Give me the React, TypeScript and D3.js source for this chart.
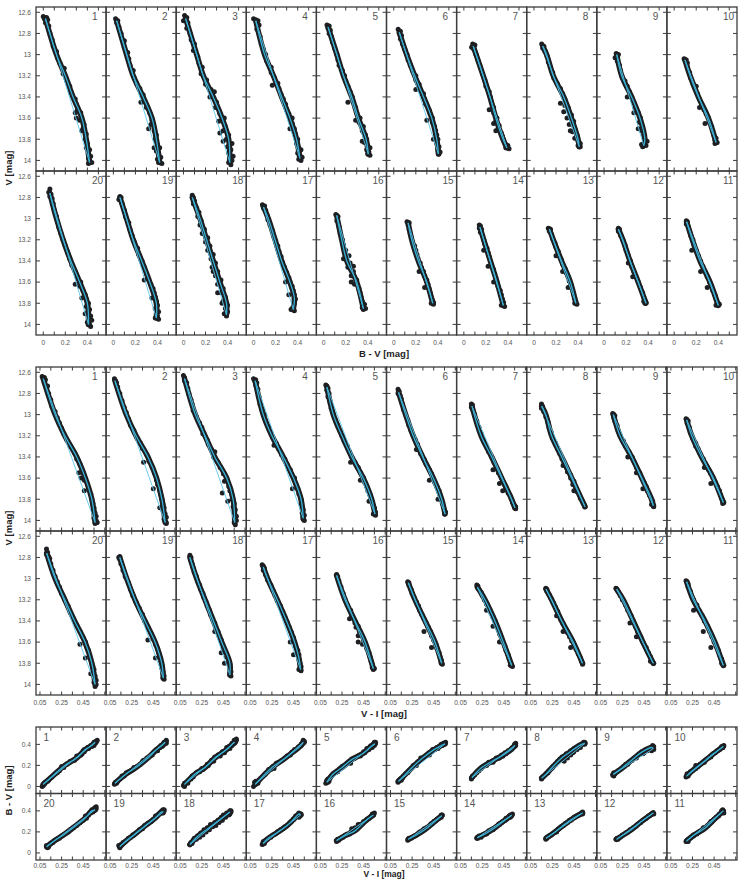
import React from 'react';
import * as d3 from 'd3';

type P = [number, number, number]; // [V, B-V, V-I]

const row1Panels = [1, 2, 3, 4, 5, 6, 7, 8, 9, 10];
const row2Panels = [20, 19, 18, 17, 16, 15, 14, 13, 12, 11];

const vTicks = [12.6, 12.8, 13, 13.2, 13.4, 13.6, 13.8, 14];
const bvXTicks = [0, 0.1, 0.2, 0.3, 0.4, 0.5];
const bvXLabels = [0, 0.2, 0.4];
const viXTicks = [0.05, 0.15, 0.25, 0.35, 0.45, 0.55, 0.65];
const viXLabels = [0.05, 0.25, 0.45];
const bvYTicks = [0, 0.2, 0.4];

// descending-branch tracks [V, B-V, V-I]
const T1: P[] = [[12.66,.02,.08],[13.0,.12,.19],[13.2,.2,.28],[13.4,.27,.39],[13.6,.35,.47],[13.8,.39,.53],[14.02,.42,.56]];
const T2: P[] = [[12.68,.03,.095],[13.0,.12,.2],[13.2,.18,.29],[13.4,.27,.4],[13.6,.35,.48],[13.8,.39,.53],[14.02,.42,.56]];
const T3: P[] = [[12.66,.02,.09],[13.0,.12,.19],[13.2,.18,.28],[13.4,.27,.37],[13.6,.35,.48],[13.8,.41,.54],[14.02,.42,.555]];
const T4: P[] = [[12.68,.02,.095],[13.0,.10,.17],[13.2,.18,.25],[13.4,.255,.355],[13.6,.33,.45],[13.8,.39,.52],[13.98,.42,.54]];
const T5: P[] = [[12.74,.04,.11],[13.0,.12,.17],[13.2,.18,.25],[13.4,.255,.34],[13.6,.315,.447],[13.8,.385,.525],[13.94,.405,.555]];
const T6: P[] = [[12.79,.05,.125],[13.0,.117,.19],[13.2,.19,.26],[13.4,.27,.348],[13.6,.345,.446],[13.8,.39,.524],[13.94,.405,.555]];
const T7: P[] = [[12.92,.085,.155],[13.2,.176,.24],[13.4,.237,.338],[13.6,.29,.43],[13.8,.355,.523],[13.88,.39,.553]];
const T8: P[] = [[12.92,.08,.152],[13.0,.115,.19],[13.2,.175,.244],[13.4,.27,.337],[13.6,.34,.43],[13.8,.40,.52],[13.87,.41,.553]];
const T9: P[] = [[13.0,.115,.166],[13.2,.16,.228],[13.4,.25,.336],[13.6,.326,.43],[13.8,.37,.52],[13.86,.36,.536]];
const T10: P[] = [[13.05,.098,.196],[13.2,.144,.243],[13.4,.22,.335],[13.6,.31,.443],[13.83,.38,.535]];
const T20: P[] = [[12.76,.06,.112],[13.0,.12,.19],[13.2,.18,.28],[13.4,.25,.37],[13.6,.33,.467],[13.8,.40,.53],[14.0,.41,.56]];
const T19: P[] = [[12.8,.06,.14],[13.0,.12,.204],[13.2,.18,.28],[13.4,.257,.373],[13.6,.33,.466],[13.8,.39,.528],[13.94,.39,.543]];
const T18: P[] = [[12.8,.08,.14],[13.0,.15,.203],[13.2,.21,.28],[13.4,.27,.358],[13.6,.33,.434],[13.8,.39,.51],[13.91,.39,.51]];
const T17: P[] = [[12.89,.09,.17],[13.0,.134,.21],[13.2,.195,.30],[13.4,.255,.385],[13.6,.33,.46],[13.75,.37,.5],[13.86,.36,.516]];
const T16: P[] = [[12.97,.118,.2],[13.2,.164,.278],[13.4,.21,.37],[13.6,.3,.463],[13.85,.36,.54]];
const T15: P[] = [[13.04,.13,.215],[13.2,.163,.277],[13.4,.223,.37],[13.6,.3,.462],[13.8,.354,.524]];
const T14: P[] = [[13.08,.146,.205],[13.2,.18,.276],[13.4,.24,.368],[13.6,.3,.445],[13.82,.358,.523]];
const T13: P[] = [[13.1,.14,.192],[13.2,.175,.244],[13.4,.25,.337],[13.6,.33,.444],[13.8,.38,.53]];
const T12: P[] = [[13.1,.13,.197],[13.2,.17,.258],[13.4,.235,.35],[13.6,.31,.44],[13.8,.38,.536]];
const T11: P[] = [[13.03,.113,.196],[13.2,.165,.257],[13.4,.235,.365],[13.6,.325,.457],[13.82,.40,.535]];

// observations [V, B-V, V-I]
const S1: P[] = [[12.64,.0,.07],[12.65,.03,.09],[12.66,.01,.08],[12.67,.04,.1],[12.7,.02,.09],[12.73,.05,.12],[12.8,.06,.13],[12.86,.08,.15],[12.92,.09,.16],[12.97,.12,.19],[13.03,.13,.21],[13.08,.15,.23],[13.13,.19,.25],[13.18,.18,.27],[13.24,.21,.3],[13.3,.24,.33],[13.36,.25,.37],[13.42,.29,.39],[13.47,.3,.42],[13.52,.31,.44],[13.55,.34,.45],[13.62,.33,.46],[13.66,.37,.49],[13.7,.36,.5],[13.75,.39,.52],[13.8,.38,.53],[13.84,.4,.54],[13.88,.39,.55],[13.9,.42,.55],[13.93,.41,.56],[13.96,.43,.57],[13.98,.41,.55],[14.0,.42,.57],[14.02,.44,.58],[14.03,.41,.56],[13.6,.3,.43],[13.72,.35,.46],[13.55,.29,.41]];
const S2: P[] = [[12.66,.02,.09],[12.68,.04,.1],[12.7,.03,.11],[12.74,.05,.12],[12.8,.07,.14],[12.87,.1,.16],[12.93,.1,.18],[12.98,.13,.2],[13.04,.14,.22],[13.1,.15,.24],[13.15,.18,.27],[13.22,.19,.3],[13.27,.21,.33],[13.32,.24,.35],[13.38,.27,.39],[13.44,.28,.41],[13.5,.3,.44],[13.55,.33,.46],[13.62,.35,.48],[13.66,.34,.49],[13.72,.37,.51],[13.76,.39,.52],[13.8,.38,.53],[13.85,.4,.54],[13.88,.42,.55],[13.91,.39,.54],[13.94,.41,.56],[13.97,.43,.57],[13.99,.4,.55],[14.01,.42,.56],[14.03,.44,.57],[14.02,.41,.57],[13.7,.32,.45],[13.45,.25,.36],[13.88,.37,.51]];
const S3: P[] = [[12.63,.01,.08],[12.65,.03,.09],[12.68,.0,.09],[12.7,.04,.11],[12.75,.03,.12],[12.8,.06,.13],[12.86,.07,.15],[12.9,.1,.16],[12.96,.09,.17],[13.02,.13,.2],[13.08,.14,.23],[13.12,.17,.25],[13.18,.16,.26],[13.24,.21,.3],[13.28,.2,.31],[13.33,.25,.34],[13.4,.24,.36],[13.45,.3,.4],[13.5,.29,.42],[13.56,.33,.45],[13.6,.37,.48],[13.63,.32,.46],[13.68,.38,.5],[13.72,.36,.51],[13.76,.41,.53],[13.8,.39,.53],[13.84,.44,.55],[13.87,.4,.54],[13.9,.43,.56],[13.93,.41,.55],[13.96,.45,.57],[13.98,.42,.56],[14.0,.44,.57],[14.02,.41,.55],[14.04,.43,.56],[13.74,.33,.44],[13.82,.36,.49],[13.35,.28,.37]];
const S4: P[] = [[12.66,.0,.08],[12.67,.02,.1],[12.68,.04,.09],[12.7,.03,.11],[12.72,.05,.1],[12.76,.03,.12],[12.83,.06,.13],[12.9,.07,.14],[12.95,.09,.16],[13.0,.11,.18],[13.06,.12,.19],[13.12,.16,.22],[13.17,.16,.24],[13.22,.19,.26],[13.27,.22,.29],[13.32,.23,.31],[13.38,.25,.34],[13.42,.27,.37],[13.47,.29,.39],[13.52,.3,.42],[13.56,.32,.43],[13.6,.35,.46],[13.65,.35,.47],[13.7,.37,.49],[13.75,.38,.5],[13.8,.4,.52],[13.84,.39,.52],[13.88,.41,.53],[13.9,.43,.54],[13.93,.4,.53],[13.95,.42,.55],[13.97,.44,.54],[13.99,.41,.54],[14.0,.43,.55],[13.29,.17,.27],[13.7,.33,.44]];
const S5: P[] = [[12.72,.03,.1],[12.73,.05,.11],[12.75,.04,.12],[12.77,.06,.11],[12.8,.05,.13],[12.83,.07,.12],[12.88,.08,.14],[12.94,.1,.15],[13.0,.12,.17],[13.05,.13,.19],[13.1,.14,.21],[13.15,.17,.23],[13.2,.19,.25],[13.25,.2,.27],[13.3,.22,.3],[13.35,.24,.32],[13.4,.26,.34],[13.45,.27,.37],[13.5,.29,.4],[13.55,.3,.42],[13.6,.33,.45],[13.64,.32,.46],[13.68,.36,.48],[13.72,.35,.49],[13.76,.38,.51],[13.8,.39,.52],[13.83,.37,.53],[13.86,.4,.54],[13.88,.42,.55],[13.9,.39,.55],[13.92,.41,.56],[13.94,.4,.54],[13.95,.42,.56],[13.45,.22,.33],[13.62,.29,.42],[13.82,.35,.5]];
const S6: P[] = [[12.76,.04,.12],[12.78,.06,.13],[12.8,.05,.12],[12.82,.07,.14],[12.85,.06,.15],[12.9,.08,.16],[12.95,.1,.17],[13.0,.12,.19],[13.05,.13,.21],[13.1,.15,.22],[13.15,.17,.24],[13.2,.2,.26],[13.24,.2,.28],[13.28,.23,.3],[13.33,.24,.31],[13.37,.27,.33],[13.42,.28,.36],[13.47,.29,.38],[13.52,.32,.41],[13.56,.33,.43],[13.6,.35,.44],[13.64,.35,.46],[13.68,.37,.48],[13.72,.38,.5],[13.76,.39,.51],[13.8,.4,.52],[13.84,.39,.53],[13.87,.41,.54],[13.9,.4,.55],[13.92,.42,.56],[13.94,.41,.55],[13.33,.2,.29],[13.62,.3,.41],[13.8,.36,.49]];
const S7: P[] = [[12.9,.08,.15],[12.91,.1,.16],[12.93,.07,.15],[12.95,.09,.16],[13.0,.11,.18],[13.06,.13,.2],[13.12,.15,.22],[13.18,.17,.24],[13.24,.19,.26],[13.3,.2,.29],[13.35,.23,.31],[13.4,.24,.34],[13.45,.25,.36],[13.5,.27,.38],[13.55,.27,.4],[13.6,.3,.43],[13.63,.29,.44],[13.67,.32,.46],[13.7,.31,.47],[13.74,.34,.49],[13.77,.35,.51],[13.8,.36,.52],[13.83,.37,.53],[13.85,.38,.54],[13.86,.4,.55],[13.88,.38,.55],[13.89,.41,.56],[13.87,.39,.56],[13.52,.23,.35],[13.65,.27,.41],[13.72,.29,.44]];
const S8: P[] = [[12.9,.07,.15],[12.92,.09,.16],[12.94,.08,.15],[12.97,.1,.17],[13.02,.12,.19],[13.07,.13,.21],[13.12,.15,.22],[13.17,.17,.24],[13.22,.18,.25],[13.27,.21,.28],[13.32,.24,.3],[13.37,.26,.32],[13.42,.28,.34],[13.46,.24,.36],[13.5,.31,.38],[13.54,.27,.39],[13.57,.34,.42],[13.6,.3,.42],[13.63,.36,.45],[13.66,.32,.44],[13.7,.37,.47],[13.73,.35,.48],[13.76,.39,.5],[13.79,.37,.51],[13.82,.4,.53],[13.84,.42,.54],[13.86,.4,.55],[13.87,.42,.55],[13.72,.33,.45],[13.48,.28,.35]];
const S9: P[] = [[12.99,.11,.16],[13.0,.13,.17],[13.01,.12,.18],[13.03,.1,.17],[13.06,.12,.18],[13.1,.14,.2],[13.15,.15,.21],[13.2,.16,.23],[13.25,.19,.26],[13.3,.21,.28],[13.35,.23,.31],[13.4,.25,.34],[13.45,.27,.36],[13.5,.28,.38],[13.55,.31,.41],[13.6,.33,.43],[13.64,.32,.45],[13.68,.35,.47],[13.72,.34,.48],[13.76,.36,.5],[13.8,.37,.52],[13.82,.39,.53],[13.84,.36,.53],[13.86,.38,.54],[13.87,.35,.54],[13.85,.34,.52],[13.4,.21,.3],[13.55,.27,.38],[13.7,.31,.44]];
const S10: P[] = [[13.04,.09,.19],[13.05,.11,.2],[13.06,.1,.21],[13.08,.12,.2],[13.12,.12,.22],[13.17,.14,.23],[13.22,.15,.25],[13.27,.17,.28],[13.32,.19,.3],[13.37,.21,.32],[13.42,.23,.35],[13.47,.25,.37],[13.52,.27,.4],[13.56,.29,.42],[13.6,.31,.44],[13.64,.32,.46],[13.68,.34,.48],[13.72,.35,.5],[13.76,.36,.51],[13.79,.38,.52],[13.81,.37,.53],[13.83,.39,.54],[13.84,.37,.53],[13.5,.23,.36],[13.65,.28,.42],[13.3,.2,.28]];
const S20: P[] = [[12.72,.06,.11],[12.75,.05,.12],[12.77,.07,.11],[12.79,.06,.13],[12.81,.08,.14],[12.86,.09,.15],[12.92,.1,.17],[12.98,.12,.19],[13.03,.13,.21],[13.08,.14,.23],[13.14,.16,.25],[13.2,.18,.28],[13.26,.2,.31],[13.32,.22,.33],[13.38,.24,.36],[13.44,.26,.39],[13.5,.29,.42],[13.56,.31,.45],[13.6,.34,.47],[13.64,.33,.48],[13.68,.36,.5],[13.72,.38,.51],[13.76,.39,.52],[13.8,.41,.53],[13.83,.39,.54],[13.86,.42,.55],[13.89,.4,.55],[13.92,.43,.56],[13.94,.41,.56],[13.96,.44,.57],[13.98,.4,.55],[14.0,.42,.57],[14.02,.43,.56],[13.62,.29,.42],[13.75,.35,.47],[13.9,.38,.52]];
const S19: P[] = [[12.79,.06,.14],[12.8,.07,.13],[12.82,.05,.14],[12.86,.08,.15],[12.92,.1,.17],[12.98,.11,.19],[13.04,.14,.22],[13.1,.15,.24],[13.16,.17,.26],[13.22,.19,.29],[13.28,.22,.32],[13.34,.23,.35],[13.4,.26,.37],[13.46,.28,.4],[13.52,.3,.43],[13.57,.32,.45],[13.62,.34,.47],[13.66,.36,.49],[13.7,.37,.5],[13.74,.38,.51],[13.78,.39,.52],[13.82,.4,.53],[13.85,.38,.53],[13.88,.41,.54],[13.9,.39,.54],[13.92,.4,.55],[13.94,.38,.54],[13.95,.41,.55],[13.58,.28,.4],[13.75,.35,.47]];
const S18: P[] = [[12.78,.08,.14],[12.8,.09,.15],[12.83,.1,.15],[12.86,.09,.16],[12.9,.12,.17],[12.94,.14,.18],[12.98,.13,.2],[13.02,.16,.21],[13.06,.15,.23],[13.1,.19,.24],[13.14,.17,.26],[13.18,.22,.27],[13.22,.2,.29],[13.26,.24,.3],[13.3,.22,.32],[13.34,.27,.33],[13.38,.25,.35],[13.42,.29,.37],[13.46,.26,.38],[13.5,.31,.4],[13.54,.29,.41],[13.58,.34,.43],[13.62,.31,.44],[13.66,.36,.45],[13.7,.34,.47],[13.74,.38,.48],[13.78,.36,.5],[13.82,.4,.51],[13.85,.38,.51],[13.88,.4,.52],[13.9,.37,.51],[13.92,.39,.52],[13.5,.27,.37],[13.7,.31,.43],[13.8,.35,.46]];
const S17: P[] = [[12.87,.08,.16],[12.88,.1,.17],[12.9,.09,.18],[12.92,.11,.17],[12.96,.12,.19],[13.01,.13,.21],[13.06,.15,.24],[13.11,.17,.26],[13.16,.18,.28],[13.21,.2,.3],[13.26,.22,.33],[13.31,.23,.35],[13.36,.25,.37],[13.41,.26,.39],[13.46,.28,.41],[13.51,.3,.43],[13.56,.32,.45],[13.6,.33,.46],[13.64,.35,.47],[13.68,.36,.49],[13.72,.37,.5],[13.76,.38,.5],[13.8,.37,.51],[13.83,.36,.52],[13.85,.35,.51],[13.87,.37,.52],[13.86,.34,.5],[13.6,.29,.42],[13.72,.32,.45]];
const S16: P[] = [[12.96,.11,.2],[12.98,.13,.21],[13.02,.12,.22],[13.08,.14,.24],[13.14,.15,.26],[13.2,.17,.28],[13.25,.18,.3],[13.3,.2,.33],[13.35,.23,.34],[13.38,.18,.32],[13.42,.24,.37],[13.46,.22,.38],[13.5,.27,.41],[13.54,.25,.4],[13.58,.3,.45],[13.62,.28,.44],[13.66,.32,.48],[13.7,.33,.5],[13.74,.34,.51],[13.78,.35,.52],[13.81,.37,.53],[13.84,.35,.53],[13.86,.36,.54],[13.85,.38,.55],[13.6,.25,.4],[13.45,.27,.4]];
const S15: P[] = [[13.03,.12,.21],[13.04,.14,.22],[13.06,.13,.22],[13.1,.14,.24],[13.14,.15,.25],[13.18,.16,.27],[13.22,.17,.29],[13.26,.19,.31],[13.3,.2,.32],[13.34,.21,.34],[13.38,.22,.36],[13.42,.24,.38],[13.46,.25,.4],[13.5,.27,.42],[13.54,.28,.43],[13.58,.3,.45],[13.62,.31,.47],[13.66,.32,.48],[13.7,.33,.5],[13.74,.34,.51],[13.77,.35,.52],[13.79,.36,.52],[13.8,.34,.52],[13.81,.36,.53],[13.5,.23,.36],[13.65,.28,.43]];
const S14: P[] = [[13.06,.14,.2],[13.07,.15,.21],[13.09,.14,.21],[13.1,.16,.22],[13.13,.15,.24],[13.16,.17,.25],[13.2,.18,.27],[13.24,.19,.29],[13.28,.21,.31],[13.32,.22,.33],[13.36,.23,.35],[13.4,.24,.37],[13.44,.25,.38],[13.48,.27,.4],[13.52,.28,.41],[13.56,.29,.43],[13.6,.3,.44],[13.64,.31,.46],[13.68,.33,.47],[13.72,.34,.49],[13.76,.35,.5],[13.79,.36,.51],[13.81,.35,.52],[13.83,.37,.53],[13.82,.34,.51],[13.45,.22,.35],[13.6,.27,.41],[13.3,.18,.29]];
const S13: P[] = [[13.09,.13,.19],[13.1,.15,.2],[13.12,.14,.2],[13.15,.16,.22],[13.19,.17,.24],[13.23,.19,.26],[13.27,.2,.28],[13.31,.22,.3],[13.35,.23,.31],[13.39,.25,.33],[13.43,.26,.35],[13.47,.28,.37],[13.51,.29,.39],[13.55,.31,.41],[13.59,.32,.43],[13.63,.34,.45],[13.67,.35,.47],[13.71,.36,.49],[13.75,.37,.51],[13.78,.38,.52],[13.8,.37,.53],[13.81,.39,.53],[13.5,.26,.35],[13.65,.31,.42],[13.35,.2,.29]];
const S12: P[] = [[13.09,.13,.19],[13.1,.14,.2],[13.12,.13,.21],[13.16,.15,.23],[13.2,.17,.25],[13.25,.19,.28],[13.3,.2,.3],[13.35,.22,.33],[13.4,.24,.35],[13.45,.25,.37],[13.5,.27,.39],[13.55,.29,.42],[13.6,.31,.44],[13.65,.33,.47],[13.7,.35,.49],[13.74,.36,.51],[13.77,.37,.52],[13.79,.38,.53],[13.8,.37,.54],[13.78,.36,.51],[13.55,.26,.38],[13.42,.22,.32]];
const S11: P[] = [[13.02,.11,.19],[13.03,.12,.2],[13.05,.11,.21],[13.08,.13,.21],[13.12,.14,.23],[13.16,.15,.24],[13.2,.17,.26],[13.25,.18,.29],[13.3,.2,.31],[13.35,.22,.34],[13.4,.24,.36],[13.45,.26,.39],[13.5,.28,.41],[13.55,.3,.43],[13.6,.32,.45],[13.64,.34,.47],[13.68,.35,.49],[13.72,.37,.5],[13.76,.38,.52],[13.79,.39,.53],[13.81,.41,.53],[13.82,.38,.54],[13.8,.4,.52],[13.5,.24,.35],[13.65,.3,.42],[13.3,.16,.26]];

const TRACKS: Record<number, P[]> = {1:T1,2:T2,3:T3,4:T4,5:T5,6:T6,7:T7,8:T8,9:T9,10:T10,11:T11,12:T12,13:T13,14:T14,15:T15,16:T16,17:T17,18:T18,19:T19,20:T20};
const POINTS: Record<number, P[]> = {1:S1,2:S2,3:S3,4:S4,5:S5,6:S6,7:S7,8:S8,9:S9,10:S10,11:S11,12:S12,13:S13,14:S14,15:S15,16:S16,17:S17,18:S18,19:S19,20:S20};

const X0 = 36;
const PW = 70.1;
const FONT = "'Liberation Sans', Arial, Helvetica, sans-serif";

type Group = {
  top: number; rowH: number; xi: number; yi: number;
  xDomain: [number, number]; yDomain: [number, number]; yInvert: boolean;
  xTicks: number[]; xLabels: number[]; yTicks: number[];
  xFmt: (t: number) => string; yFmt: (t: number) => string;
  numLeft: boolean; numDy: number;
  xTitle: string; yTitle: string; xLabelDy: number; xTitleY: number; xTitleSize: number;
};

const fmtV = (t: number) => String(Math.round(t * 10) / 10);
const fmtBV = (t: number) => String(t);
const fmtVI = (t: number) => t.toFixed(2);

const groups: Group[] = [
  { top: 7, rowH: 164, xi: 1, yi: 0, xDomain: [-0.066, 0.57], yDomain: [12.55, 14.1], yInvert: false,
    xTicks: bvXTicks, xLabels: bvXLabels, yTicks: vTicks, xFmt: fmtBV, yFmt: fmtV,
    numLeft: false, numDy: 13, xTitle: 'B - V  [mag]', yTitle: 'V  [mag]', xLabelDy: 8, xTitleY: 357, xTitleSize: 9.5 },
  { top: 367, rowH: 164, xi: 2, yi: 0, xDomain: [0.013, 0.662], yDomain: [12.55, 14.1], yInvert: false,
    xTicks: viXTicks, xLabels: viXLabels, yTicks: vTicks, xFmt: fmtVI, yFmt: fmtV,
    numLeft: false, numDy: 13, xTitle: 'V - I  [mag]', yTitle: 'V  [mag]', xLabelDy: 8, xTitleY: 717, xTitleSize: 9.5 },
  { top: 727, rowH: 66.5, xi: 2, yi: 1, xDomain: [0.013, 0.662], yDomain: [-0.067, 0.565], yInvert: true,
    xTicks: viXTicks, xLabels: viXLabels, yTicks: bvYTicks, xFmt: fmtVI, yFmt: fmtBV,
    numLeft: true, numDy: 13.5, xTitle: 'V - I  [mag]', yTitle: 'B - V  [mag]', xLabelDy: 6, xTitleY: 877, xTitleSize: 8.5 },
];

const LINE = '#36b2d8';
const CHORD = '#5cc6ea';
const DOT = '#1e1f22';
const FRAME = '#3c3c3c';

function Panel({ g, gi, row, col, num }: { g: Group; gi: number; row: number; col: number; num: number }) {
  const left = X0 + col * PW;
  const right = left + PW;
  const top = g.top + row * g.rowH;
  const bottom = top + g.rowH;
  const x = d3.scaleLinear().domain(g.xDomain).range([left, right]);
  const y = d3.scaleLinear().domain(g.yDomain).range(g.yInvert ? [bottom, top] : [top, bottom]);
  const pts = POINTS[num];
  const trk = TRACKS[num];
  const line = d3.line<P>().x(d => x(d[g.xi])).y(d => y(d[g.yi])).curve(d3.curveCatmullRom.alpha(0.5));
  const chord = d3.line<P>().x(d => x(d[g.xi])).y(d => y(d[g.yi]));
  const clipId = `clip-${gi}-${row}-${col}`;
  const isBottomRow = row === 1;
  const trackPath = line(trk) || '';
  return (
    <g>
      <clipPath id={clipId}><rect x={left} y={top} width={PW} height={g.rowH} /></clipPath>
      <g clipPath={`url(#${clipId})`}>
        <path d={trackPath} fill="none" stroke={DOT} strokeWidth={5.5} strokeLinecap="round" strokeLinejoin="round" />
        {pts.map((p, k) => (
          <circle key={k} cx={x(p[g.xi])} cy={y(p[g.yi])} r={2.5} fill={DOT} />
        ))}
        <path d={chord([trk[trk.length - 1], trk[0]]) || ''} fill="none" stroke={CHORD} strokeWidth={0.9} />
        <path d={trackPath} fill="none" stroke={LINE} strokeWidth={1.3} />
      </g>
      {g.yTicks.map(t => (
        <g key={'y' + t}>
          <line x1={left} x2={left + 4} y1={y(t)} y2={y(t)} stroke={FRAME} strokeWidth={1} />
          <line x1={right} x2={right - 4} y1={y(t)} y2={y(t)} stroke={FRAME} strokeWidth={1} />
        </g>
      ))}
      {g.xTicks.map(t => (
        <g key={'x' + t}>
          <line x1={x(t)} x2={x(t)} y1={top} y2={top + 3.5} stroke={FRAME} strokeWidth={1} />
          <line x1={x(t)} x2={x(t)} y1={bottom} y2={bottom - 3.5} stroke={FRAME} strokeWidth={1} />
        </g>
      ))}
      <rect x={left} y={top} width={PW} height={g.rowH} fill="none" stroke={FRAME} strokeWidth={1.3} />
      <text x={g.numLeft ? left + 7.5 : left + 56} y={top + g.numDy} fontSize={10} fill="#555" fontFamily={FONT}>{num}</text>
      {col === 0 && g.yTicks.map(t => (
        <text key={'yl' + t} x={31} y={y(t)} dy="0.35em" fontSize={6.6} fill="#555" textAnchor="end" fontFamily={FONT}>{g.yFmt(t)}</text>
      ))}
      {isBottomRow && g.xLabels.map(t => (
        <text key={'xl' + t} x={x(t)} y={bottom + g.xLabelDy} dy="0.35em" fontSize={6.6} fill="#555" textAnchor="middle" fontFamily={FONT}>{g.xFmt(t)}</text>
      ))}
    </g>
  );
}

export default function App() {
  const W = 743;
  const H = 879;
  return (
    <svg width={W} height={H} style={{ position: 'absolute', left: 0, top: 0, background: '#fff' }}>
      <rect x={0} y={0} width={W} height={H} fill="#fff" />
      {groups.map((g, gi) => {
        const mid = g.top + g.rowH;
        return (
          <g key={gi}>
            {row1Panels.map((n, c) => <Panel key={'a' + n} g={g} gi={gi} row={0} col={c} num={n} />)}
            {row2Panels.map((n, c) => <Panel key={'b' + n} g={g} gi={gi} row={1} col={c} num={n} />)}
            <text x={384} y={g.xTitleY} fontSize={g.xTitleSize} fontWeight="bold" fill="#222" textAnchor="middle" fontFamily={FONT}>{g.xTitle}</text>
            <text transform={`translate(9,${mid - 3}) rotate(-90)`} dy="0.35em" fontSize={9.5} fontWeight="bold" fill="#222" textAnchor="middle" fontFamily={FONT}>{g.yTitle}</text>
          </g>
        );
      })}
    </svg>
  );
}
